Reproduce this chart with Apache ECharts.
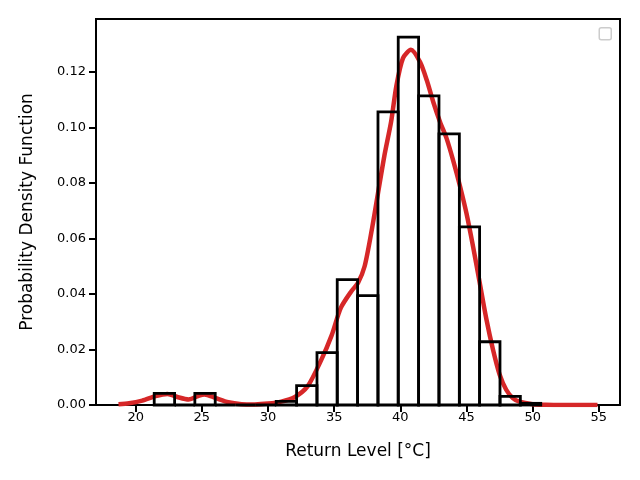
<!DOCTYPE html>
<html>
<head>
<meta charset="utf-8">
<script src="https://cdn.jsdelivr.net/npm/echarts@6/dist/echarts.min.js"></script>
<style>html,body{margin:0;padding:0;background:#fff}#c{width:640px;height:480px}</style>
</head>
<body>
<div id="c"></div>
<script>
// Histogram bin edges (°C) and densities
var binEdges = [21.40, 22.94, 24.47, 26.01, 27.55, 29.08, 30.62, 32.16, 33.70, 35.23, 36.77, 38.31, 39.84, 41.38, 42.92, 44.46, 45.99, 47.53, 49.07, 50.61];
var binDensity = [0.0042, 0, 0.0042, 0, 0, 0, 0.0013, 0.0070, 0.0189, 0.0452, 0.0394, 0.1056, 0.1326, 0.1114, 0.0977, 0.0642, 0.0228, 0.0031, 0.0006];
// KDE curve
var kdeX = [18.7, 19.5, 20.5, 21.5, 22.4, 23.2, 24.0, 24.8, 25.2, 26.0, 27.0, 28.0, 29.0, 30.0, 31.0, 32.0, 33.0, 34.0, 34.8, 35.5, 36.3, 36.8, 37.3, 37.8, 38.3, 38.8, 39.3, 39.7, 40.2, 40.8, 41.5, 42.0, 42.5, 43.0, 43.5, 44.0, 44.5, 45.0, 45.5, 46.0, 46.5, 47.0, 47.5, 48.0, 48.5, 49.0, 50.0, 51.0, 52.0, 53.5, 54.9];
var kdeY = [0.0003, 0.0006, 0.0016, 0.0032, 0.0040, 0.0028, 0.0020, 0.0034, 0.0038, 0.0026, 0.0010, 0.0003, 0.0002, 0.0005, 0.0012, 0.0028, 0.0068, 0.0160, 0.0250, 0.0350, 0.0410, 0.0440, 0.0500, 0.0620, 0.0760, 0.0900, 0.1020, 0.1150, 0.1250, 0.1280, 0.1235, 0.1170, 0.1090, 0.1020, 0.0960, 0.0880, 0.0790, 0.0690, 0.0570, 0.0440, 0.0310, 0.0200, 0.0110, 0.0055, 0.0025, 0.0012, 0.0003, 0.0001, 0, 0, 0];
var xTicks = [20, 25, 30, 35, 40, 45, 50, 55];
var yTicks = [0, 0.02, 0.04, 0.06, 0.08, 0.10, 0.12];

var histData = binDensity.map(function (d, i) { return [binEdges[i], binEdges[i + 1], d]; });
var kdeData = kdeX.map(function (x, i) { return [x, kdeY[i]]; });

var chart = echarts.init(document.getElementById('c'), null, { renderer: 'canvas' });
var font = 'DejaVu Sans';
chart.setOption({
  animation: false,
  backgroundColor: '#ffffff',
  grid: { left: 96, right: 20, top: 19, bottom: 75, show: true, borderColor: '#000', borderWidth: 2, backgroundColor: 'transparent' },
  xAxis: {
    type: 'value', min: 17.0, max: 56.6,
    name: 'Return Level [°C]', nameLocation: 'middle', nameGap: 38,
    nameTextStyle: { fontFamily: font, fontSize: 17, color: '#000' },
    axisLine: { show: true, onZero: false, lineStyle: { color: '#000', width: 2 } },
    axisTick: { show: true, length: 7, lineStyle: { color: '#000', width: 2 }, customValues: xTicks },
    axisLabel: { fontFamily: font, fontSize: 13, color: '#000', margin: 6, customValues: xTicks },
    splitLine: { show: false }
  },
  yAxis: {
    type: 'value', min: 0, max: 0.1391,
    name: 'Probability Density Function', nameLocation: 'middle', nameGap: 60,
    nameTextStyle: { fontFamily: font, fontSize: 17, color: '#000' },
    axisLine: { show: true, lineStyle: { color: '#000', width: 2 } },
    axisTick: { show: true, length: 7, lineStyle: { color: '#000', width: 2 }, customValues: yTicks },
    axisLabel: { fontFamily: font, fontSize: 13, color: '#000', margin: 10, customValues: yTicks, formatter: function (v) { return v.toFixed(2); } },
    splitLine: { show: false }
  },
  graphic: [{
    type: 'rect', right: 28, top: 27, z: 100,
    shape: { width: 12, height: 12, r: 2 },
    style: { fill: '#fff', stroke: '#cccccc', lineWidth: 1.5 }
  }],
  series: [
    {
      type: 'line', data: kdeData, showSymbol: false, smooth: 0.25, z: 2,
      lineStyle: { color: '#d62728', width: 4.5 }, itemStyle: { color: '#d62728' }
    },
    {
      type: 'custom', z: 3,
      renderItem: function (params, api) {
        var p0 = api.coord([api.value(0), api.value(2)]);
        var p1 = api.coord([api.value(1), 0]);
        return {
          type: 'rect',
          shape: { x: p0[0], y: p0[1], width: p1[0] - p0[0], height: p1[1] - p0[1] },
          style: { fill: 'none', stroke: '#000', lineWidth: 2.8 }
        };
      },
      encode: { x: [0, 1], y: 2 },
      data: histData
    }
  ]
});
</script>
</body>
</html>
